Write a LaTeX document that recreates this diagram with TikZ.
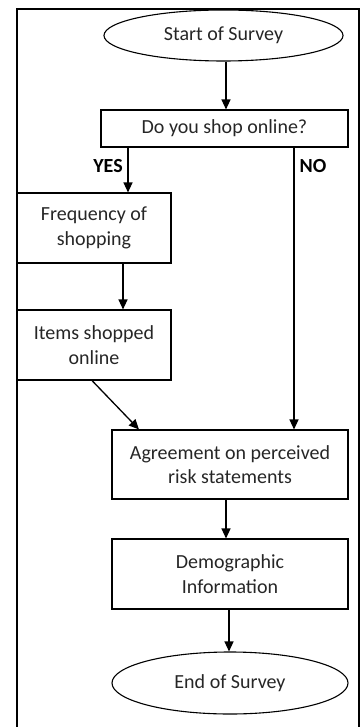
\documentclass[tikz,border=0pt]{standalone}
\usepackage{fontspec}
\setmainfont{Carlito}
\usetikzlibrary{shapes.geometric,arrows.meta}
\begin{document}
\begin{tikzpicture}[x=1pt,y=-1pt,
  every node/.style={font=\fontsize{20}{24.5}\selectfont, text=black!85},
  boxnode/.style={draw=black, line width=1.1pt, rectangle, inner sep=0pt, align=center},
  ovalnode/.style={draw=black, line width=1.1pt, ellipse, inner sep=0pt, align=center},
  lbl/.style={font=\fontsize{20}{24}\selectfont\bfseries, text=black},
  arr/.style={line width=1.3pt, -{Triangle[length=10pt,width=9pt]}}]
\useasboundingbox (0,0) rectangle (363,727);
\draw[line width=1.1pt] (17,735) -- (17,9) -- (359,9) -- (359,735);
\node[ovalnode, minimum width=239pt, minimum height=51pt] (start) at (223.5,35.5) {Start of Survey};
\node[boxnode, minimum width=247pt, minimum height=37pt] (q) at (224.5,128.5) {Do you shop online?};
\node[boxnode, minimum width=154pt, minimum height=70pt] (freq) at (94,228) {Frequency of\\shopping};
\node[boxnode, minimum width=154pt, minimum height=70pt] (items) at (94,345) {Items shopped\\online};
\node[boxnode, minimum width=236pt, minimum height=69pt] (agree) at (230,464.5) {Agreement on perceived\\risk statements};
\node[boxnode, minimum width=236pt, minimum height=70pt] (demo) at (230,574) {Demographic\\Information};
\node[ovalnode, minimum width=236pt, minimum height=62pt] (end) at (230,683) {End of Survey};
\node[lbl] (yes) at (108,166) {YES};
\node[lbl] (no) at (313,166) {NO};
\coordinate (xa) at (226,0);
\coordinate (xyes) at (128,0);
\coordinate (xf) at (123,0);
\coordinate (xno) at (294,0);
\coordinate (xd) at (229,0);
\draw[arr] (start.south -| xa) -- (q.north -| xa);
\draw[arr] (q.south -| xyes) -- (freq.north -| xyes);
\draw[arr] (freq.south -| xf) -- (items.north -| xf);
\draw[arr] ([xshift=-2pt]items.south) -- ([xshift=-91pt]agree.north);
\draw[arr] (q.south -| xno) -- (agree.north -| xno);
\draw[arr] (agree.south -| xa) -- (demo.north -| xa);
\draw[arr] (demo.south -| xd) -- (end.north -| xd);
\end{tikzpicture}
\end{document}
